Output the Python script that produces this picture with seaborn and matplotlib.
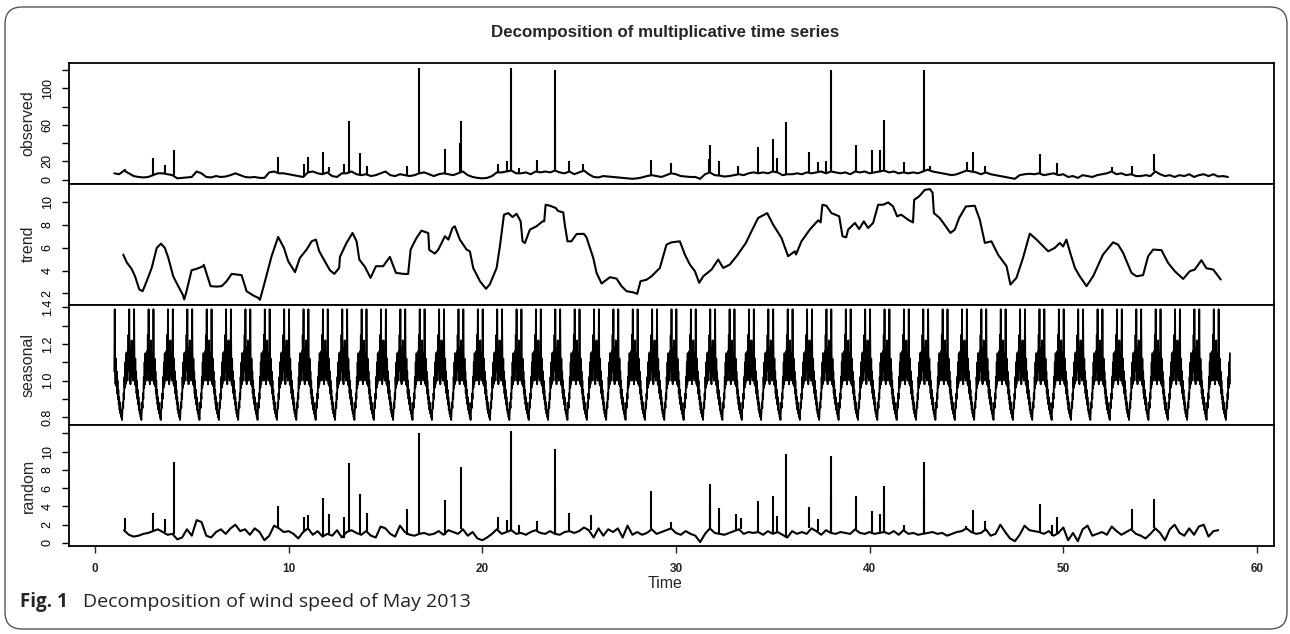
import numpy as np
import matplotlib.pyplot as plt
import seaborn as sns
from matplotlib.patches import FancyBboxPatch

# ---- data (time in days-index units) ----
# observed: baseline sampled every 0.25 from t=1.0, spikes listed separately
obs_start, obs_step = 1.0, 0.25
obs_base = [7, 6, 10, 7, 4, 3, 2.5, 3, 5, 7, 7, 6, 5, 1.5, 2, 2.5,
            3, 9, 7, 3, 2.5, 4, 3, 3.5, 5, 7, 5, 3, 2.5, 3, 2, 2,
            8, 9, 7, 7, 6, 5, 4, 3, 8, 9, 7, 6, 8, 4, 3, 7,
            7, 9, 6, 5, 6, 4, 5, 7, 9, 5, 4, 6, 5, 4, 5, 7,
            8, 6, 4, 6, 7, 6, 5, 7, 9, 5, 3, 2, 1.5, 2, 4, 8,
            8, 9, 10, 7, 7, 8, 6, 9, 8, 9, 8, 10, 8, 7, 9, 6,
            8, 10, 6, 3, 2.5, 4, 3.5, 3, 2.5, 2, 1.5, 1, 1.5, 2.5, 4, 5,
            4, 3, 5, 7, 6, 4, 3.5, 3, 3, 1, 6, 8, 5, 4.5, 3.5, 4,
            5, 6, 5, 7, 8, 7, 8, 7, 9, 8, 5, 6, 6, 7, 6, 8,
            7, 8, 9, 7, 9, 8, 7, 8, 6, 9, 8, 9, 7, 8, 9, 10,
            8, 9, 7, 8, 7, 8, 7, 9, 11, 9, 8, 7, 6, 5, 6, 8,
            10, 9, 8, 6, 8, 6, 5, 4, 3, 2, 1, 5, 6, 6.5, 6, 7,
            5, 6, 7, 5, 6, 3, 4, 2, 5, 4, 3, 5, 6, 7, 9, 6,
            7, 5, 6, 4, 4, 5, 4, 9, 6, 4, 5, 3, 5, 4, 6, 3,
            5, 6, 4, 6, 3.5, 4, 3]
obs_spike_t = [1.55, 3.01, 3.61, 4.08, 9.43, 10.80, 11.01, 11.79, 12.08, 12.86,
               13.11, 13.68, 14.03, 16.13, 16.74, 18.10, 18.86, 18.88, 20.82, 21.29,
               21.48, 21.50, 21.90, 22.83, 23.73, 23.75, 24.49, 25.20, 28.69, 29.77,
               31.73, 31.75, 32.23, 33.20, 34.25, 35.02, 35.22, 35.66, 36.88, 37.34,
               37.74, 37.99, 38.00, 39.28, 39.29, 40.13, 40.56, 40.73, 40.75, 41.77,
               42.80, 42.82, 43.10, 45.05, 45.35, 45.95, 48.79, 49.70, 52.49, 53.57,
               54.67]
obs_spike_v = [12, 24, 16, 33, 25, 17, 25, 30, 14, 17,
               64, 29, 15, 15, 122, 34, 40, 64, 17, 20,
               65, 122, 13, 22, 63, 120, 20, 17, 22, 18,
               23, 38, 21, 15, 36, 45, 24, 63, 30, 19,
               20, 65, 120, 27, 38, 32, 32, 65, 37, 19,
               120, 64, 15, 19, 30, 15, 28, 18, 14, 15,
               28]

# trend: points along the curve
trend_t = [1.46, 1.64, 1.89, 2.07, 2.29, 2.46, 2.67, 2.93, 3.19, 3.41, 3.61, 3.79,
           4.04, 4.30, 4.53, 4.61, 4.73, 4.99, 5.25, 5.59, 5.62, 5.97, 6.28, 6.54,
           6.80, 7.06, 7.32, 7.57, 7.83, 8.17, 8.43, 8.52, 8.78, 9.12, 9.46, 9.76,
           9.98, 10.33, 10.58, 10.93, 11.19, 11.41, 11.58, 11.87, 12.13, 12.36, 12.61, 12.65,
           12.99, 13.30, 13.51, 13.65, 13.94, 14.23, 14.51, 14.88, 15.23, 15.54, 15.92, 16.17,
           16.30, 16.60, 16.86, 17.21, 17.26, 17.55, 17.73, 18.07, 18.25, 18.46, 18.58, 18.84,
           19.19, 19.36, 19.53, 19.88, 20.19, 20.39, 20.74, 20.91, 21.12, 21.34, 21.56, 21.77,
           21.98, 22.08, 22.20, 22.46, 22.80, 23.11, 23.20, 23.27, 23.50, 23.80, 23.91, 24.18,
           24.26, 24.40, 24.60, 24.87, 25.25, 25.38, 25.73, 25.90, 26.16, 26.59, 26.93, 27.19,
           27.45, 27.79, 28.00, 28.17, 28.48, 28.74, 29.17, 29.51, 29.77, 30.20, 30.46, 30.72,
           30.98, 31.20, 31.41, 31.84, 32.18, 32.44, 32.78, 33.13, 33.61, 33.90, 34.24, 34.71,
           35.02, 35.45, 35.79, 36.14, 36.20, 36.48, 36.91, 37.34, 37.47, 37.56, 37.77, 38.03,
           38.43, 38.60, 38.79, 38.89, 39.24, 39.46, 39.70, 39.92, 40.18, 40.44, 40.70, 40.96,
           41.21, 41.42, 41.63, 41.99, 42.24, 42.30, 42.55, 42.85, 43.11, 43.25, 43.32, 43.62,
           43.93, 44.17, 44.40, 44.62, 44.97, 45.43, 45.69, 45.95, 46.29, 46.63, 47.07, 47.27,
           47.58, 47.92, 48.27, 48.62, 48.96, 49.22, 49.56, 49.82, 49.99, 50.16, 50.33, 50.60,
           50.85, 51.20, 51.54, 52.05, 52.57, 52.83, 53.09, 53.52, 53.78, 54.12, 54.38, 54.64,
           55.07, 55.41, 55.76, 56.19, 56.53, 56.79, 57.13, 57.39, 57.74, 58.13]
trend_v = [5.39, 4.72, 4.15, 3.50, 2.35, 2.20, 3.07, 4.23, 5.97, 6.35, 5.97, 5.10,
           3.50, 2.64, 1.91, 1.48, 2.20, 4.03, 4.15, 4.38, 4.50, 2.64, 2.60, 2.64,
           3.07, 3.71, 3.65, 3.60, 2.20, 1.83, 1.62, 1.45, 3.07, 5.25, 6.93, 5.97,
           4.81, 3.86, 5.10, 5.83, 6.55, 6.70, 5.68, 4.81, 4.03, 3.71, 4.23, 5.20,
           6.41, 7.28, 6.55, 4.96, 4.32, 3.36, 4.38, 4.38, 5.19, 3.80, 3.71, 3.70,
           5.83, 6.84, 7.48, 7.27, 5.80, 5.48, 5.83, 6.99, 6.70, 7.71, 7.86, 6.70,
           5.83, 5.68, 4.23, 3.07, 2.41, 2.80, 4.23, 6.12, 8.87, 9.01, 8.67, 8.95,
           8.29, 6.55, 6.40, 7.57, 7.86, 8.29, 8.30, 9.74, 9.65, 9.45, 9.20, 9.07,
           8.00, 6.55, 6.55, 7.19, 7.20, 6.90, 5.10, 3.80, 2.87, 3.42, 3.30, 2.64,
           2.20, 2.10, 1.97, 3.07, 3.20, 3.50, 4.23, 6.26, 6.46, 6.55, 5.39, 4.52,
           3.94, 2.93, 3.50, 4.09, 4.96, 4.23, 4.52, 5.25, 6.41, 7.42, 8.58, 9.01,
           8.00, 6.84, 5.25, 5.68, 5.40, 6.55, 7.57, 8.38, 8.20, 9.74, 9.65, 9.01,
           8.73, 6.99, 6.90, 7.57, 8.15, 7.62, 8.29, 7.71, 8.15, 9.74, 9.74, 9.94,
           9.59, 8.73, 8.87, 8.43, 8.20, 10.17, 10.46, 11.04, 11.10, 10.80, 9.01, 8.58,
           7.86, 7.28, 7.57, 8.58, 9.59, 9.65, 8.43, 6.41, 6.55, 5.39, 4.38, 2.78,
           3.36, 5.10, 7.22, 6.70, 6.12, 5.68, 5.97, 6.41, 6.10, 6.70, 5.70, 4.23,
           3.50, 2.64, 3.50, 5.39, 6.46, 6.26, 5.54, 3.80, 3.50, 3.60, 5.25, 5.83,
           5.78, 4.67, 3.94, 3.27, 3.94, 4.09, 4.90, 4.20, 4.09, 3.22]

# seasonal: one daily cycle (48 values), repeated over the record
season_day = [1.05, 1.39, 1.08, 0.98, 1.12, 0.97, 1.05, 0.93, 1.00, 0.90, 0.95, 0.87,
              0.91, 0.84, 0.88, 0.82, 0.84, 0.80, 0.81, 0.785, 0.83, 0.88, 0.85, 0.93,
              0.90, 1.02, 0.96, 1.10, 0.98, 1.15, 1.02, 1.08, 1.00, 1.16, 1.05, 1.25,
              1.08, 1.39, 1.00, 1.12, 0.98, 1.18, 1.05, 1.22, 1.02, 1.15, 1.00, 1.10]
season_start, season_end = 1.0, 58.6

# random: baseline sampled every 0.25 from t=1.5, spikes listed separately
rnd_start, rnd_step = 1.5, 0.25
rnd_base = [1.4, 0.9,
            0.7, 0.8, 1.0, 1.1, 1.3, 1.5, 1.2, 0.9, 1.0, 0.4, 0.6, 1.5,
            0.8, 2.5, 2.3, 0.8, 0.6, 1.2, 1.5, 1.0, 1.6, 2.0, 1.3, 1.5,
            0.9, 1.6, 1.2, 0.3, 0.8, 1.9, 1.6, 1.2, 1.3, 1.0, 0.5, 1.2,
            1.6, 0.9, 1.3, 0.7, 1.0, 0.8, 1.4, 0.6, 1.2, 1.4, 1.1, 0.9,
            1.3, 0.8, 0.6, 1.8, 1.6, 1.0, 0.7, 1.9, 1.2, 0.9, 0.8, 1.0,
            1.1, 0.9, 1.0, 1.3, 0.9, 1.4, 1.2, 1.0, 1.5, 0.8, 1.2, 0.5,
            0.3, 0.6, 1.0, 1.5, 1.0, 1.2, 1.4, 1.0, 1.1, 0.9, 1.2, 1.4,
            1.1, 1.0, 1.3, 1.0, 0.9, 1.2, 1.3, 1.1, 1.3, 1.7, 1.4, 0.6,
            1.6, 0.8, 1.5, 1.2, 1.6, 0.6, 1.9, 0.9, 1.2, 0.9, 1.1, 1.5,
            1.0, 1.2, 1.4, 1.6, 1.1, 0.9, 1.3, 1.0, 0.8, 0.1, 1.0, 1.6,
            1.1, 1.0, 0.9, 1.1, 1.3, 1.5, 1.0, 1.2, 1.1, 1.2, 0.9, 1.3,
            1.0, 1.2, 0.9, 0.6, 1.3, 1.0, 1.2, 1.0, 1.6, 1.3, 0.9, 1.4,
            1.1, 1.0, 1.2, 1.1, 1.0, 1.5, 1.1, 1.0, 1.2, 1.0, 1.1, 1.2,
            1.0, 1.3, 0.9, 1.4, 1.0, 1.1, 0.9, 1.0, 1.1, 1.2, 1.0, 1.1,
            0.8, 1.0, 1.2, 1.3, 1.6, 1.2, 1.0, 1.1, 1.5, 0.8, 1.0, 2.0,
            1.2, 0.5, 0.2, 0.9, 1.9, 1.4, 1.3, 1.2, 1.0, 1.3, 0.8, 1.1,
            1.7, 0.3, 1.1, 0.2, 1.5, 1.9, 0.8, 1.0, 1.2, 0.9, 1.8, 1.3,
            0.9, 1.2, 1.5, 1.0, 0.8, 0.5, 1.0, 1.6, 1.1, 0.3, 1.5, 2.0,
            1.1, 0.8, 1.6, 0.9, 1.8, 2.0, 0.7, 1.3,
            1.4]
rnd_spike_t = [1.55, 3.00, 3.60, 4.08, 9.43, 10.80, 11.00, 11.79, 12.08, 12.86,
               13.11, 13.68, 14.03, 16.13, 16.74, 18.10, 18.88, 20.82, 21.29, 21.48,
               21.50, 21.90, 22.83, 23.73, 23.75, 24.49, 25.60, 28.69, 29.77, 31.75,
               31.78, 32.23, 33.10, 33.35, 34.25, 35.02, 35.22, 35.66, 36.88, 37.34,
               37.99, 38.00, 39.29, 40.13, 40.56, 40.73, 40.75, 41.77, 42.80, 42.82,
               45.00, 45.35, 45.95, 48.79, 49.40, 49.70, 53.57, 54.67]
rnd_spike_v = [2.7, 3.3, 2.6, 8.9, 4.0, 2.9, 3.1, 4.9, 3.15, 2.8,
               8.75, 5.35, 3.25, 3.7, 12.05, 4.7, 8.3, 2.9, 2.5, 6.7,
               12.3, 2.0, 2.4, 5.5, 10.3, 3.3, 3.1, 5.7, 2.3, 6.45,
               4.2, 3.8, 3.15, 2.7, 4.6, 5.1, 3.0, 9.7, 3.9, 2.6,
               5.1, 9.55, 5.1, 3.55, 3.15, 6.25, 3.55, 2.0, 8.9, 4.8,
               1.9, 3.6, 2.4, 4.3, 2.0, 2.9, 3.7, 4.8]

panel_names = ["observed", "trend", "seasonal", "random"]
x_ticks = [0, 10, 20, 30, 40, 50, 60]


def spiky(ax, start, step, base, spike_t, spike_v, lw):
    base = np.asarray(base, dtype=float)
    t = start + step * np.arange(len(base))
    sns.lineplot(x=t, y=base, ax=ax, color="black", linewidth=lw, estimator=None)
    idx = np.clip(np.rint((np.asarray(spike_t) - start) / step).astype(int), 0, len(base) - 1)
    ax.vlines(spike_t, base[idx], spike_v, color="black", linewidth=lw)


sns.set_style("ticks")
plt.rcParams['font.family'] = ['Liberation Sans', 'DejaVu Sans']

W, H = 1290, 634
fig = plt.figure(figsize=(W / 100, H / 100), dpi=100)
left_px, right_px, top_px, panel_px = 69, 1274, 63, 120.75
lw = 1.5

axes = []
for i in range(4):
    bottom = 1 - (top_px + (i + 1) * panel_px) / H
    ax = fig.add_axes([left_px / W, bottom, (right_px - left_px) / W, panel_px / H])
    axes.append(ax)

spiky(axes[0], obs_start, obs_step, obs_base, obs_spike_t, obs_spike_v, lw)

sns.lineplot(x=trend_t, y=trend_v, ax=axes[1], color="black", linewidth=lw, estimator=None)

n_season = int(round((season_end - season_start) * len(season_day))) + 1
season_vals = np.tile(season_day, n_season // len(season_day) + 1)[:n_season]
season_t = season_start + np.arange(n_season) / len(season_day)
sns.lineplot(x=season_t, y=season_vals, ax=axes[2], color="black", linewidth=1.3, estimator=None)

spiky(axes[3], rnd_start, rnd_step, rnd_base, rnd_spike_t, rnd_spike_v, lw)

ylims = [(-4.4, 127.6), (1.04, 11.57), (0.756, 1.416), (-0.33, 12.9)]
yticks = [[0, 20, 40, 60, 80, 100, 120], [2, 4, 6, 8, 10],
          [0.8, 0.9, 1.0, 1.1, 1.2, 1.3, 1.4], [0, 2, 4, 6, 8, 10, 12]]
ylabels = [["0", "20", "", "60", "", "100", ""], ["2", "4", "6", "8", "10"],
           ["0.8", "", "1.0", "", "1.2", "", "1.4"], ["0", "2", "4", "6", "8", "10", ""]]

for i, ax in enumerate(axes):
    ax.set_xlim(-1.34, 60.88)
    ax.set_ylim(*ylims[i])
    ax.set_yticks(yticks[i])
    ax.set_yticklabels(ylabels[i])
    ax.set_xlabel("")
    ax.set_ylabel("")
    for s in ax.spines.values():
        s.set_visible(True)
        s.set_linewidth(1.3)
        s.set_color("black")
    ax.tick_params(axis="y", direction="out", length=5, width=1, labelsize=9,
                   pad=6, labelrotation=90, colors="black")
    for lab in ax.get_yticklabels():
        lab.set_va("center")
    if i < 3:
        ax.set_xticks([])
    else:
        ax.set_xticks(x_ticks)
        ax.set_xticklabels([str(v) for v in x_ticks], fontweight="bold")
        ax.tick_params(axis="x", direction="out", length=5, width=1, labelsize=8.5, pad=7)
    yc = 1 - (top_px + (i + 0.5) * panel_px) / H
    fig.text(28 / W, yc, panel_names[i], rotation=90, ha="center", va="center", fontsize=11.5)

cx = (left_px + right_px) / 2 / W
fig.text(cx - 6 / W, 1 - 33 / H, "Decomposition of multiplicative time series",
         ha="center", va="center", fontsize=12.2, fontweight="bold")
fig.text(cx - 6 / W, 1 - 583 / H, "Time", ha="center", va="center", fontsize=11.5)

fig.text(20 / W, 1 - 602 / H, "Fig. 1", family=["Open Sans", "DejaVu Sans"],
         fontweight="bold", fontsize=13.5, ha="left", va="center")
fig.text(83 / W, 1 - 602 / H, "Decomposition of wind speed of May 2013",
         family=["Open Sans", "DejaVu Sans"], fontsize=14, ha="left", va="center", color="#222222")

frame = FancyBboxPatch((0.05, 0.05), 12.82, 6.22, boxstyle="round,pad=0,rounding_size=0.17",
                       transform=fig.dpi_scale_trans, fill=False, edgecolor="#555555", linewidth=1.0)
fig.add_artist(frame)

fig.savefig("out.png", dpi=100)
